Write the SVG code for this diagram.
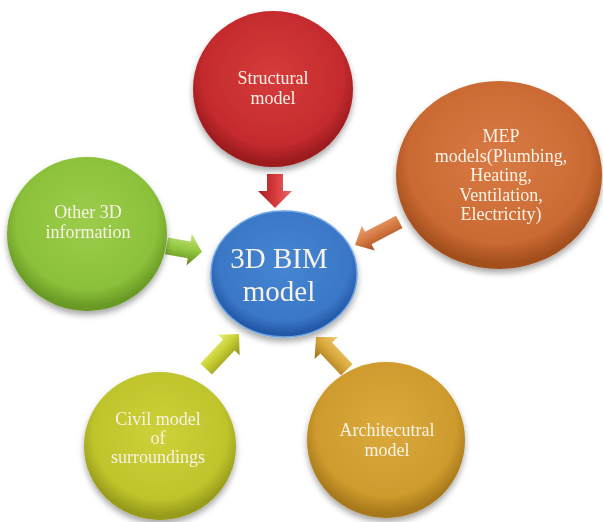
<svg xmlns="http://www.w3.org/2000/svg" width="603" height="522" viewBox="0 0 603 522">
  <style>
    .lbl { font-family: "Liberation Serif", "Times New Roman", serif; font-size: 18px; fill: #f7f2e6; text-anchor: middle; }
    .big { font-size: 29px; }
    .node { filter: url(#shadow); }
  </style>
  <defs>
    <filter id="shadow" x="-20%" y="-20%" width="140%" height="150%">
      <feGaussianBlur in="SourceAlpha" stdDeviation="3"/>
      <feOffset dx="0" dy="4" result="b"/>
      <feComponentTransfer><feFuncA type="linear" slope="0.35"/></feComponentTransfer>
      <feMerge><feMergeNode/><feMergeNode in="SourceGraphic"/></feMerge>
    </filter>
    <radialGradient id="gRed" cx="50%" cy="42%" r="55%">
      <stop offset="0" stop-color="#d63b3b"/>
      <stop offset="0.8" stop-color="#c42b2e"/>
      <stop offset="1" stop-color="#9c1b1f"/>
    </radialGradient>
    <radialGradient id="gOrange" cx="50%" cy="42%" r="55%">
      <stop offset="0" stop-color="#d87a45"/>
      <stop offset="0.8" stop-color="#cb6a33"/>
      <stop offset="1" stop-color="#a34f1e"/>
    </radialGradient>
    <radialGradient id="gGreen" cx="50%" cy="42%" r="55%">
      <stop offset="0" stop-color="#9ccd4b"/>
      <stop offset="0.8" stop-color="#8bc13a"/>
      <stop offset="1" stop-color="#6a9a25"/>
    </radialGradient>
    <radialGradient id="gBlue" cx="50%" cy="42%" r="55%">
      <stop offset="0" stop-color="#4686d2"/>
      <stop offset="0.82" stop-color="#3a77c6"/>
      <stop offset="1" stop-color="#2459a8"/>
    </radialGradient>
    <radialGradient id="gCivil" cx="50%" cy="42%" r="55%">
      <stop offset="0" stop-color="#cdd23a"/>
      <stop offset="0.8" stop-color="#bfc42c"/>
      <stop offset="1" stop-color="#979b1b"/>
    </radialGradient>
    <radialGradient id="gArch" cx="50%" cy="42%" r="55%">
      <stop offset="0" stop-color="#dba93c"/>
      <stop offset="0.8" stop-color="#cf9b2e"/>
      <stop offset="1" stop-color="#a7791b"/>
    </radialGradient>
    <linearGradient id="aRed" x1="0" y1="0" x2="0" y2="1">
      <stop offset="0" stop-color="#e86a6a"/><stop offset="0.5" stop-color="#d8393b"/><stop offset="1" stop-color="#a31f22"/>
    </linearGradient>
    <linearGradient id="aOrange" x1="0" y1="0" x2="0" y2="1">
      <stop offset="0" stop-color="#a84f1e"/><stop offset="0.5" stop-color="#d57a44"/><stop offset="1" stop-color="#efa373"/>
    </linearGradient>
    <linearGradient id="aGreen" x1="0" y1="0" x2="0" y2="1">
      <stop offset="0" stop-color="#c3e57e"/><stop offset="0.5" stop-color="#94c83f"/><stop offset="1" stop-color="#5f8a1f"/>
    </linearGradient>
    <linearGradient id="aCivil" x1="0" y1="0" x2="0" y2="1">
      <stop offset="0" stop-color="#eef27a"/><stop offset="0.5" stop-color="#c6cc30"/><stop offset="1" stop-color="#8d911a"/>
    </linearGradient>
    <linearGradient id="aArch" x1="0" y1="0" x2="0" y2="1">
      <stop offset="0" stop-color="#9a6e16"/><stop offset="0.5" stop-color="#d9a83a"/><stop offset="1" stop-color="#f0cc70"/>
    </linearGradient>
  </defs>

  <rect width="603" height="522" fill="#ffffff"/>

  <!-- connectors: block arrows, each drawn pointing +x with its tip at the origin -->
  <g id="connectors">
    <path transform="translate(275,208) rotate(90)" fill="url(#aRed)" d="M-34,-8 H-17 V-17 L0,0 L-17,17 V8 H-34 Z"/>
    <path transform="translate(355,245) rotate(152.4)" fill="url(#aOrange)" d="M-50,-7 H-15 V-14 L0,0 L-15,14 V7 H-50 Z"/>
    <path transform="translate(202,252) rotate(9.7)" fill="url(#aGreen)" d="M-36,-8.5 H-13 V-16 L0,0 L-13,16 V8.5 H-36 Z"/>
    <path transform="translate(239,334) rotate(-46.7)" fill="url(#aCivil)" d="M-48,-8 H-15 V-15 L0,0 L-15,15 V8 H-48 Z"/>
    <path transform="translate(316,337) rotate(-133.2)" fill="url(#aArch)" d="M-45,-8 H-15 V-16 L0,0 L-15,16 V8 H-45 Z"/>
  </g>

  <g id="structural" class="node">
    <ellipse cx="273" cy="89" rx="80" ry="78" fill="url(#gRed)"/>
    <text class="lbl" x="273" y="84">Structural</text>
    <text class="lbl" x="273" y="104">model</text>
  </g>

  <g id="mep" class="node">
    <ellipse cx="499" cy="175" rx="103" ry="94" fill="url(#gOrange)"/>
    <text class="lbl" x="501" y="142">MEP</text>
    <text class="lbl" x="501" y="162">models(Plumbing,</text>
    <text class="lbl" x="501" y="181">Heating,</text>
    <text class="lbl" x="501" y="201">Ventilation,</text>
    <text class="lbl" x="501" y="220">Electricity)</text>
  </g>

  <g id="other3d" class="node">
    <ellipse cx="87" cy="234" rx="80" ry="77" fill="url(#gGreen)"/>
    <text class="lbl" x="88" y="218">Other 3D</text>
    <text class="lbl" x="88" y="238">information</text>
  </g>

  <g id="bim" class="node">
    <ellipse cx="284" cy="274" rx="73" ry="63" fill="url(#gBlue)" stroke="#6aa4e6" stroke-width="1.5"/>
    <text class="lbl big" x="279" y="268">3D BIM</text>
    <text class="lbl big" x="279" y="301">model</text>
  </g>

  <g id="civil" class="node">
    <ellipse cx="160" cy="446" rx="76" ry="74" fill="url(#gCivil)"/>
    <text class="lbl" x="158" y="425">Civil model</text>
    <text class="lbl" x="158" y="444">of</text>
    <text class="lbl" x="158" y="463">surroundings</text>
  </g>

  <g id="architectural" class="node">
    <ellipse cx="386" cy="440" rx="79" ry="78" fill="url(#gArch)"/>
    <text class="lbl" x="387" y="436">Architecutral</text>
    <text class="lbl" x="387" y="456">model</text>
  </g>
</svg>
